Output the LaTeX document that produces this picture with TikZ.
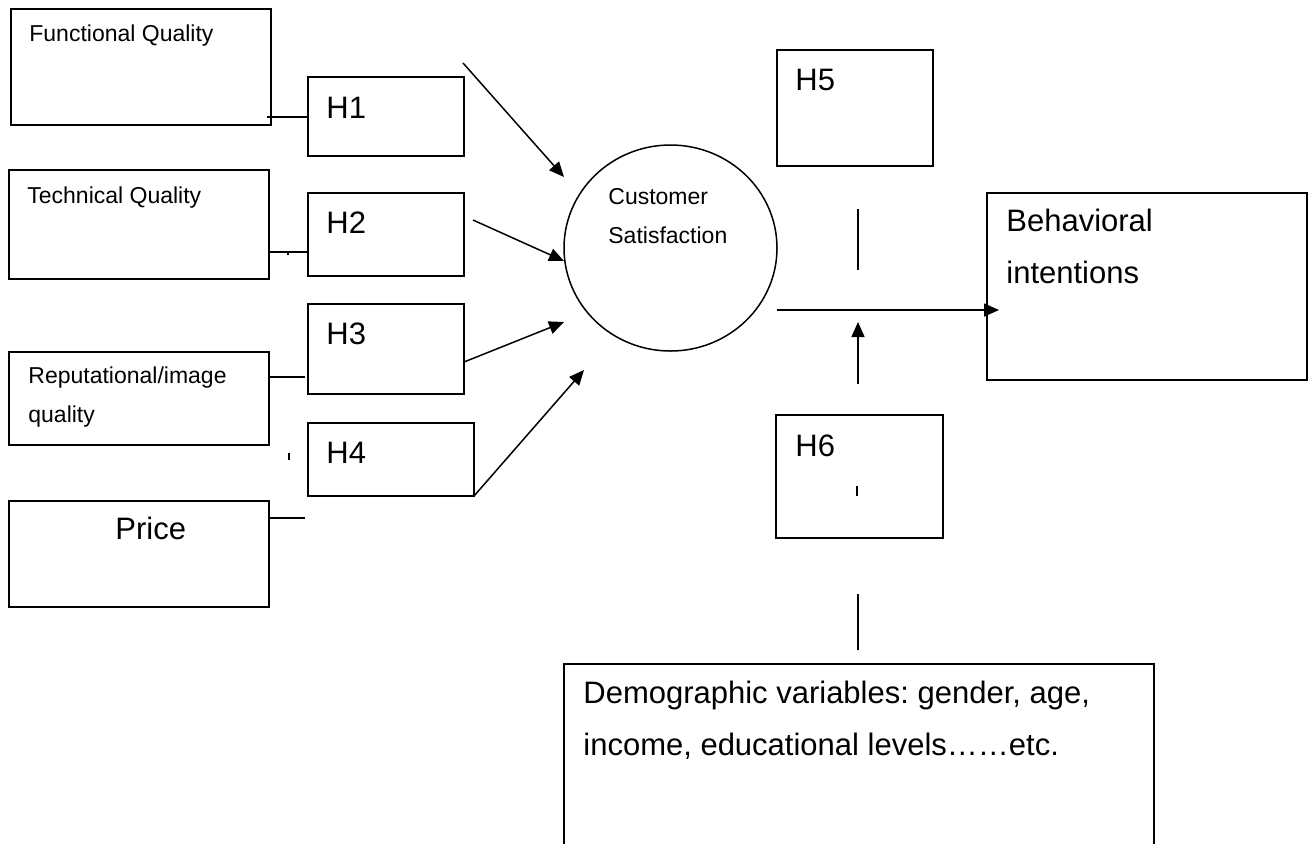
\documentclass[tikz,border=0pt]{standalone}
\usepackage{fontspec}
\setmainfont{Liberation Sans}
\usetikzlibrary{shapes, positioning, arrows.meta, calc}
\frenchspacing

\begin{document}
\begin{tikzpicture}[
    x=0.5pt, y=-0.5pt,
    box/.style={rectangle, draw, line width=0.75pt, inner sep=0pt, outer sep=0pt},
    small/.style={anchor=base west, align=left, inner sep=0pt, font=\fontsize{11.5}{19.5}\selectfont},
    big/.style={anchor=base west, align=left, inner sep=0pt, font=\fontsize{15.5}{26}\selectfont},
    line/.style={draw, line width=0.75pt},
    arrow/.style={line, -{Triangle[length=7.5pt, width=6.5pt]}}
]
    \useasboundingbox (0,0) rectangle (1311,843);

    % Quality boxes
    \node [box, minimum width=130pt, minimum height=58pt] (fq) at (141,67) {};
    \node [box, minimum width=130pt, minimum height=54.5pt] (tq) at (139,224.5) {};
    \node [box, minimum width=130pt, minimum height=46.5pt] (rep) at (139,398.5) {};
    \node [box, minimum width=130pt, minimum height=53pt] (price) at (139,554) {};
    \node [small] (fqtext) at (29,41) {Functional Quality};
    \node [small] (tqtext) at (27,203) {Technical Quality};
    \node [small] (reptext) at (28,422) {Reputational/image\\quality};
    \node [big] (pricetext) at (115,539) {Price};

    % Hypotheses
    \node [box, minimum width=78pt, minimum height=39.5pt] (h1) at (386,116.5) {};
    \node [box, minimum width=78pt, minimum height=41.5pt] (h2) at (386,234.5) {};
    \node [box, minimum width=78pt, minimum height=45pt] (h3) at (386,349) {};
    \node [box, minimum width=83pt, minimum height=36.5pt] (h4) at (391,459.5) {};
    \node [box, minimum width=78pt, minimum height=58pt] (h5) at (855,108) {};
    \node [box, minimum width=83.5pt, minimum height=61.5pt] (h6) at (859.5,476.5) {};
    \node [big] (h1text) at (326,118) {H1};
    \node [big] (h2text) at (326,233) {H2};
    \node [big] (h3text) at (326,344) {H3};
    \node [big] (h4text) at (326,463) {H4};
    \node [big] (h5text) at (795,90) {H5};
    \node [big] (h6text) at (795,456) {H6};

    % Satisfaction, intentions, demographics
    \node [ellipse, draw, line width=0.75pt, inner sep=0pt, outer sep=0pt, minimum width=106.5pt, minimum height=103pt] (cs) at (670.5,248) {};
    \node [small] (cstext) at (608,243) {Customer\\Satisfaction};
    \node [box, minimum width=160pt, minimum height=93.5pt] (bi) at (1147,286.5) {};
    \node [big] (bitext) at (1006,283) {Behavioral\\intentions};
    \node [box, minimum width=295pt, minimum height=92pt] (demo) at (859,756) {};
    \node [big] (demotext) at (583,755) {Demographic variables: gender, age,\\income, educational levels……etc.};

    % Quality to hypothesis links
    \draw [line] ($(fq.south east)+(-4,-8)$) -- ($(h1.south west)+(0,-39)$);
    \draw [line] ($(tq.south east)+(0,-27)$) -- ($(h2.south west)+(0,-24)$);
    \draw [line] ($(tq.south east)+(19,-27)$) -- ++(0,3);
    \draw [line] ($(rep.north east)+(0,25)$) -- ($(h3.south west)+(-3,-17)$);
    \draw [line] ($(h4.west)+(-19,-7)$) -- ++(0,7);
    \coordinate (priceend) at (305,518);
    \draw [line] ($(price.north east)+(0,17)$) -- (priceend);

    % Arrows into satisfaction
    \draw [arrow] ($(h1.north east)+(-1,-14)$) -- ($(cs.west)+(0,-71)$);
    \draw [arrow] ($(h2.north east)+(9,27)$) -- ($(cs.west)+(0,13)$);
    \draw [arrow] ($(h3.east)+(0,13)$) -- ($(cs.west)+(0,74)$);
    \draw [arrow] (h4.south east) -- ($(cs.west)+(20,122)$);

    % Main path and moderators
    \draw [arrow] ($(cs.east)+(0,62)$) -- ($(bi.west)+(12,23.5)$);
    \draw [line] ($(h5.south)+(3,43)$) -- ++(0,61);
    \draw [arrow] ($(h6.north)+(-1.5,-31)$) -- ($(h6.north)+(-1.5,-93)$);
    \draw [line] ($(h6.center)+(-2.5,9.5)$) -- ++(0,10);
    \draw [line] ($(demo.north)+(-1,-70)$) -- ++(0,56);

\end{tikzpicture}
\end{document}
